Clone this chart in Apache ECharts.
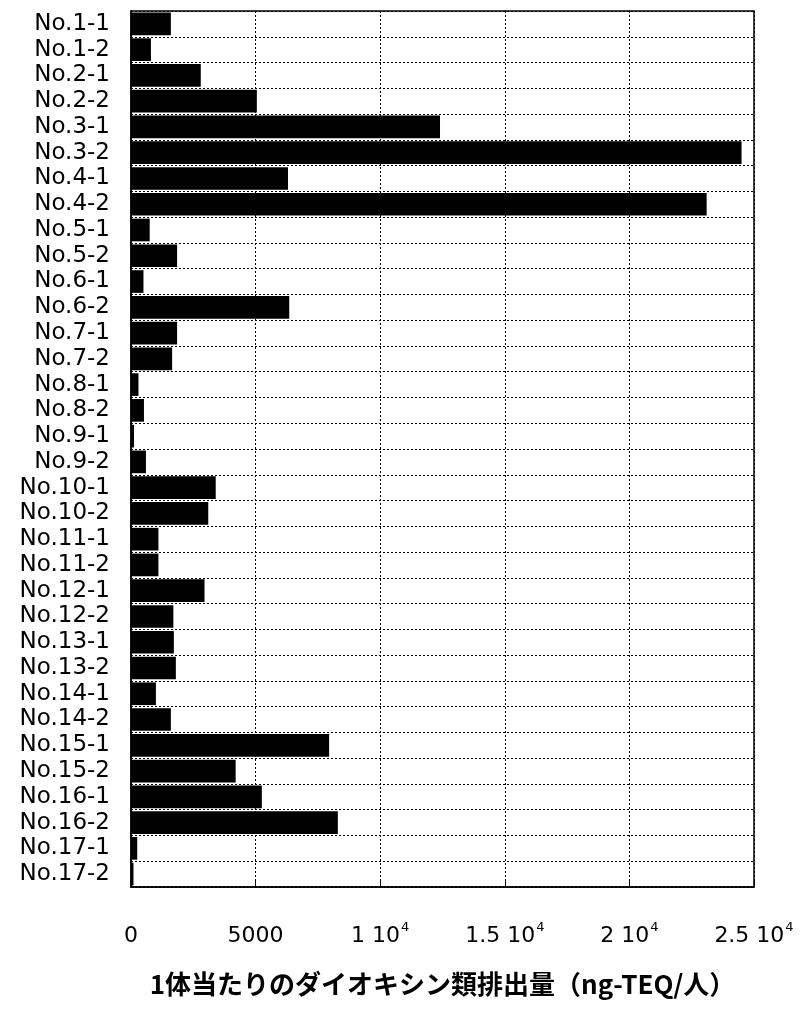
<!DOCTYPE html>
<html>
<head>
<meta charset="utf-8">
<script src="https://cdn.jsdelivr.net/npm/echarts@6/dist/echarts.min.js"></script>
<style>
  html, body { margin: 0; padding: 0; background: #fff; }
  #chart { width: 808px; height: 1011px; }
</style>
</head>
<body>
<div id="chart"></div>
<script>
// sample names, top to bottom
var samples = [
  'No.1-1', 'No.1-2', 'No.2-1', 'No.2-2', 'No.3-1', 'No.3-2',
  'No.4-1', 'No.4-2', 'No.5-1', 'No.5-2', 'No.6-1', 'No.6-2',
  'No.7-1', 'No.7-2', 'No.8-1', 'No.8-2', 'No.9-1', 'No.9-2',
  'No.10-1', 'No.10-2', 'No.11-1', 'No.11-2', 'No.12-1', 'No.12-2',
  'No.13-1', 'No.13-2', 'No.14-1', 'No.14-2', 'No.15-1', 'No.15-2',
  'No.16-1', 'No.16-2', 'No.17-1', 'No.17-2'
];
// ng-TEQ per person
var emission = [
  1600, 800, 2800, 5050, 12400, 24500,
  6300, 23100, 750, 1850, 500, 6350,
  1850, 1650, 300, 520, 120, 600,
  3400, 3100, 1100, 1100, 2950, 1700,
  1720, 1800, 1000, 1600, 7950, 4200,
  5250, 8300, 250, 100
];
// x tick labels: [mantissa, exponent]
var tickLabels = {
  0: ['0', ''],
  5000: ['5000', ''],
  10000: ['1 10', '4'],
  15000: ['1.5 10', '4'],
  20000: ['2 10', '4'],
  25000: ['2.5 10', '4']
};
var axisTitle = '1体当たりのダイオキシン類排出量（ng-TEQ/人）';

var chart = echarts.init(document.getElementById('chart'));
var dotted = { color: '#000', width: 1, type: [2, 2] };
var labelFont = 'DejaVu Sans';

chart.setOption({
  backgroundColor: '#fff',
  animation: false,
  grid: {
    left: 131, right: 54, top: 11, bottom: 124,
    show: true, borderColor: '#000', borderWidth: 1.5,
    containLabel: false
  },
  xAxis: {
    type: 'value',
    min: 0, max: 25000, interval: 5000,
    axisLine: { show: true, lineStyle: { color: '#000', width: 1.5 } },
    axisTick: { show: true, inside: true, length: 6, lineStyle: { color: '#000' } },
    splitLine: { show: true, lineStyle: dotted },
    axisLabel: {
      margin: 38,
      color: '#000',
      formatter: function (v) {
        var t = tickLabels[v];
        if (!t) return '';
        return '{b|' + t[0] + '}' + (t[1] ? '{sup|' + t[1] + '}' : '');
      },
      rich: {
        b: { fontSize: 22, fontFamily: labelFont, color: '#000', lineHeight: 22 },
        sup: {
          fontSize: 13, fontFamily: labelFont, color: '#000',
          lineHeight: 13, padding: [0, 0, 16, 1]
        }
      }
    },
    name: axisTitle,
    nameLocation: 'middle',
    nameGap: 84,
    nameTextStyle: {
      color: '#000',
      fontFamily: 'Noto Sans CJK JP',
      fontWeight: 'bold',
      fontSize: 26
    }
  },
  yAxis: {
    type: 'category',
    data: samples,
    inverse: true,
    axisLine: { show: true, lineStyle: { color: '#000', width: 1.5 } },
    axisTick: { show: false },
    splitLine: { show: true, interval: 0, lineStyle: dotted },
    axisLabel: {
      interval: 0,
      margin: 21,
      color: '#000',
      fontFamily: labelFont,
      fontSize: 23
    }
  },
  series: [{
    type: 'bar',
    data: emission,
    barCategoryGap: '12%',
    itemStyle: { color: '#000' }
  }]
});
</script>
</body>
</html>
